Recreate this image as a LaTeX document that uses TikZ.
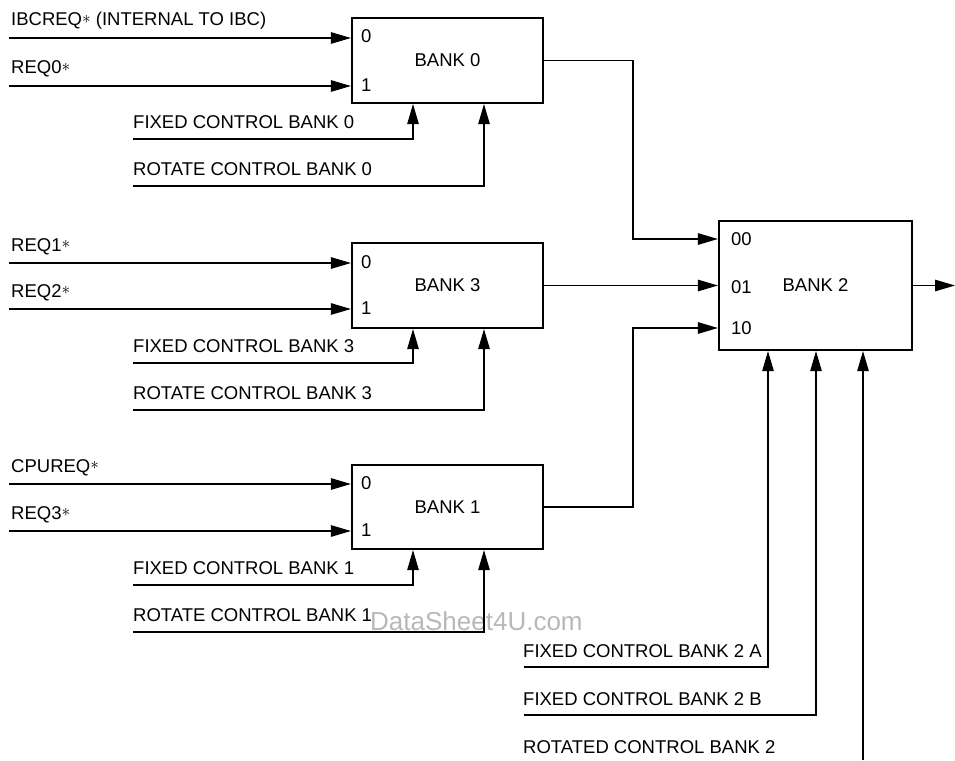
\documentclass[tikz,border=0pt]{standalone}
\usepackage{fontspec}
\setmainfont{Liberation Sans}
\usetikzlibrary{arrows.meta,calc}
\newcommand{\myast}{\raisebox{0.12em}{$\ast$}}
\tikzset{
  bank/.style={draw, line width=2.2pt, rectangle, inner sep=0pt, font=\fontsize{18.5}{20}\selectfont},
  lbl/.style={anchor=base west, inner sep=0pt, font=\fontsize{18.5}{20}\selectfont},
  arr/.style={line width=1.1pt, -{Triangle[length=20pt,width=11.5pt]}},
  wm/.style={anchor=base west, inner sep=0pt, font=\fontsize{26}{28}\selectfont, text=black!28}
}
\begin{document}
\begin{tikzpicture}[x=1pt,y=-1pt]
\useasboundingbox (0,0) rectangle (955,760);
% banks
\node[bank, minimum width=191pt, minimum height=85pt] (b0) at (447.5,60.5) {BANK 0};
\node[bank, minimum width=191pt, minimum height=85pt] (b3) at (447.5,285.5) {BANK 3};
\node[bank, minimum width=191pt, minimum height=84pt] (b1) at (447.5,507) {BANK 1};
\node[bank, minimum width=193pt, minimum height=129pt] (b2) at (815.5,285.5) {BANK 2};
% port labels
\node[lbl] (b0p0) at (361,43) {0};
\node[lbl] (b0p1) at (361,91) {1};
\node[lbl] (b3p0) at (361,268) {0};
\node[lbl] (b3p1) at (361,314) {1};
\node[lbl] (b1p0) at (361,489) {0};
\node[lbl] (b1p1) at (361,536) {1};
\node[lbl] (b2p00) at (731,245) {00};
\node[lbl] (b2p01) at (731,293) {01};
\node[lbl] (b2p10) at (731,334) {10};
% input labels
\node[lbl] (t1) at (11,26) {IBCREQ\myast{} (INTERNAL TO IBC)};
\node[lbl] (t2) at (11,74) {REQ0\myast};
\node[lbl] (t3) at (11,251) {REQ1\myast};
\node[lbl] (t4) at (11,297) {REQ2\myast};
\node[lbl] (t5) at (11,472) {CPUREQ\myast};
\node[lbl] (t6) at (11,519) {REQ3\myast};
\node[lbl] (tf0) at (133,128) {FIXED CONTROL BANK 0};
\node[lbl] (tr0) at (133,175) {ROTATE CONTROL BANK 0};
\node[lbl] (tf3) at (133,352) {FIXED CONTROL BANK 3};
\node[lbl] (tr3) at (133,399) {ROTATE CONTROL BANK 3};
\node[lbl] (tf1) at (133,574) {FIXED CONTROL BANK 1};
\node[lbl] (tr1) at (133,621) {ROTATE CONTROL BANK 1};
\node[lbl] (tfa) at (523,657) {FIXED CONTROL BANK 2 A};
\node[lbl] (tfb) at (523,705) {FIXED CONTROL BANK 2 B};
\node[lbl] (trr) at (523,753) {ROTATED CONTROL BANK 2};
\node[wm] (wmk) at (370,630) {DataSheet4U.com};
% line start points
\coordinate (i1) at (9,38);
\coordinate (i2) at (9,86);
\coordinate (i3) at (9,263);
\coordinate (i4) at (9,309);
\coordinate (i5) at (9,484);
\coordinate (i6) at (9,531);
\coordinate (f0) at (133,139);
\coordinate (r0) at (133,186);
\coordinate (f3) at (133,363);
\coordinate (r3) at (133,410);
\coordinate (f1) at (133,585);
\coordinate (r1) at (133,632);
\coordinate (fa) at (524,667);
\coordinate (fb) at (524,715);
\coordinate (rr) at (863,760);
\coordinate (bx) at (633,0);
\coordinate (out) at (955,285.5);
\coordinate (p00) at ([yshift=46.5pt]b2.west);
\coordinate (p10) at ([yshift=-42.5pt]b2.west);
% inputs
\foreach \s/\b in {i1/b0,i2/b0,i3/b3,i4/b3,i5/b1,i6/b1}
  \draw[arr] (\s) -- (\s -| \b.west);
% controls
\draw[arr] (f0) -| ([xshift=-34.5pt]b0.south);
\draw[arr] (r0) -| ([xshift=36.5pt]b0.south);
\draw[arr] (f3) -| ([xshift=-34.5pt]b3.south);
\draw[arr] (r3) -| ([xshift=36.5pt]b3.south);
\draw[arr] (f1) -| ([xshift=-34.5pt]b1.south);
\draw[arr] (r1) -| ([xshift=36.5pt]b1.south);
\draw[arr] (fa) -| ([xshift=-47.5pt]b2.south);
\draw[arr] (fb) -| ([xshift=0.5pt]b2.south);
\draw[arr] (rr) -- ([xshift=47.5pt]b2.south);
% bank outputs
\draw[arr] (b0.east) -| (bx |- p00) -- (p00);
\draw[arr] (b3.east) -- (b2.west);
\draw[arr] (b1.east) -| (bx |- p10) -- (p10);
\draw[arr] (b2.east) -- (out);
\end{tikzpicture}
\end{document}
